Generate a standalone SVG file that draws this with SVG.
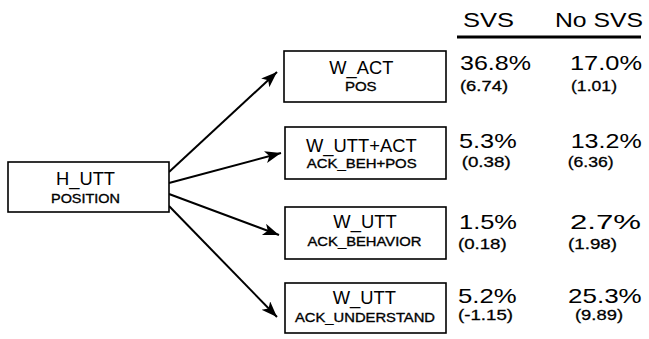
<svg xmlns="http://www.w3.org/2000/svg" width="649" height="339" viewBox="0 0 649 339">
<style>
.box{fill:#fff;stroke:#000;stroke-width:1.6}
.t{font-family:"Liberation Sans",Arial,sans-serif;fill:#000;text-anchor:middle}
.m{font-size:17.5px}
.s{font-size:13.5px;stroke:#000;stroke-width:0.35}
.big{font-size:21px;text-anchor:start}
.sm{font-size:15px;text-anchor:start;stroke:#000;stroke-width:0.3}
.hd{font-size:19.5px;text-anchor:start}
.c{stroke:#000;stroke-width:2;fill:none;marker-end:url(#ah)}
</style>
<defs>
<marker id="ah" markerUnits="userSpaceOnUse" markerWidth="18" markerHeight="14" refX="16" refY="6" orient="auto">
<path d="M0,0 L16,6 L0,12 L4,6 z" fill="#000"/>
</marker>
</defs>
<rect width="649" height="339" fill="#fff"/>
<g id="connectors">
<line class="c" x1="169" y1="172" x2="277" y2="72"/>
<line class="c" x1="169" y1="183" x2="281" y2="153"/>
<line class="c" x1="169" y1="194" x2="279" y2="235"/>
<line class="c" x1="169" y1="206" x2="277" y2="317"/>
</g>
<g id="h_utt">
<rect class="box" x="8" y="162" width="161" height="50"/>
<text class="t m" x="85.5" y="185" textLength="59" lengthAdjust="spacingAndGlyphs">H_UTT</text>
<text class="t s" x="85.5" y="202.7" textLength="69" lengthAdjust="spacingAndGlyphs">POSITION</text>
</g>
<g id="w_act">
<rect class="box" x="284" y="51" width="162" height="51"/>
<text class="t m" x="361.3" y="74.3" textLength="64" lengthAdjust="spacingAndGlyphs">W_ACT</text>
<text class="t s" x="360.8" y="91" textLength="31.7" lengthAdjust="spacingAndGlyphs">POS</text>
</g>
<g id="w_utt_act">
<rect class="box" x="285" y="127" width="161" height="52"/>
<text class="t m" x="361.3" y="152.3" textLength="110.7" lengthAdjust="spacingAndGlyphs">W_UTT+ACT</text>
<text class="t s" x="361.7" y="168.3" textLength="110" lengthAdjust="spacingAndGlyphs">ACK_BEH+POS</text>
</g>
<g id="w_utt_beh">
<rect class="box" x="285" y="207" width="161" height="52"/>
<text class="t m" x="365" y="228.3" textLength="63.3" lengthAdjust="spacingAndGlyphs">W_UTT</text>
<text class="t s" x="364.5" y="245.7" textLength="114" lengthAdjust="spacingAndGlyphs">ACK_BEHAVIOR</text>
</g>
<g id="w_utt_und">
<rect class="box" x="285" y="283" width="161" height="50"/>
<text class="t m" x="364.3" y="304.3" textLength="63.3" lengthAdjust="spacingAndGlyphs">W_UTT</text>
<text class="t s" x="365" y="321.7" textLength="140" lengthAdjust="spacingAndGlyphs">ACK_UNDERSTAND</text>
</g>
<g id="table">
<text class="t hd" x="463" y="27.3" textLength="51" lengthAdjust="spacingAndGlyphs">SVS</text>
<text class="t hd" x="555" y="27.3" textLength="88" lengthAdjust="spacingAndGlyphs">No SVS</text>
<line x1="457" y1="37" x2="641" y2="37" stroke="#000" stroke-width="3"/>
<text class="t big" x="460" y="70" textLength="71" lengthAdjust="spacingAndGlyphs">36.8%</text>
<text class="t sm" x="460" y="91" textLength="48" lengthAdjust="spacingAndGlyphs">(6.74)</text>
<text class="t big" x="570" y="70" textLength="72" lengthAdjust="spacingAndGlyphs">17.0%</text>
<text class="t sm" x="571" y="91" textLength="46" lengthAdjust="spacingAndGlyphs">(1.01)</text>
<text class="t big" x="459" y="148.3" textLength="57.7" lengthAdjust="spacingAndGlyphs">5.3%</text>
<text class="t sm" x="461.7" y="167" textLength="49" lengthAdjust="spacingAndGlyphs">(0.38)</text>
<text class="t big" x="570.7" y="148.3" textLength="71" lengthAdjust="spacingAndGlyphs">13.2%</text>
<text class="t sm" x="567.7" y="167" textLength="46" lengthAdjust="spacingAndGlyphs">(6.36)</text>
<text class="t big" x="459" y="228.5" textLength="58" lengthAdjust="spacingAndGlyphs">1.5%</text>
<text class="t sm" x="458" y="248.5" textLength="48.7" lengthAdjust="spacingAndGlyphs">(0.18)</text>
<text class="t big" x="570" y="228.5" textLength="71" lengthAdjust="spacingAndGlyphs">2.7%</text>
<text class="t sm" x="568" y="248.5" textLength="49" lengthAdjust="spacingAndGlyphs">(1.98)</text>
<text class="t big" x="458" y="303" textLength="58.7" lengthAdjust="spacingAndGlyphs">5.2%</text>
<text class="t sm" x="458" y="320" textLength="55" lengthAdjust="spacingAndGlyphs">(-1.15)</text>
<text class="t big" x="568" y="303" textLength="73.7" lengthAdjust="spacingAndGlyphs">25.3%</text>
<text class="t sm" x="575" y="320" textLength="48" lengthAdjust="spacingAndGlyphs">(9.89)</text>
</g>
</svg>
